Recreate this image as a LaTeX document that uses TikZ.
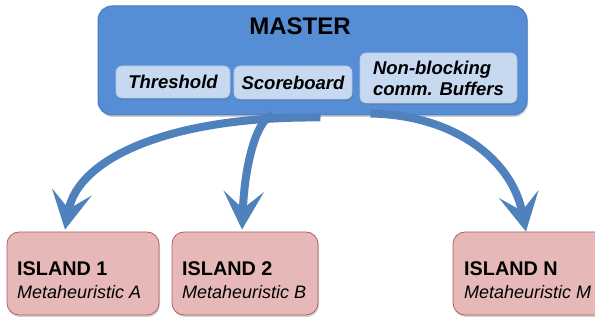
\documentclass[tikz,border=0pt]{standalone}
\usepackage{fontspec}
\setmainfont{Liberation Sans}
\usetikzlibrary{arrows.meta,shadows,calc}
\definecolor{masterblue}{HTML}{558ED5}
\definecolor{masteredge}{HTML}{4A7CC0}
\definecolor{innerblue}{HTML}{C6D9F1}
\definecolor{inneredge}{HTML}{AFC6E6}
\definecolor{islandfill}{HTML}{E6B9B8}
\definecolor{islandedge}{HTML}{B06060}
\definecolor{arrowblue}{HTML}{4F81BD}
\tikzset{
  boxshadow/.style={drop shadow={shadow xshift=1pt,shadow yshift=-2pt,opacity=0.3,fill=black!60}},
  masterbox/.style={draw=masteredge,line width=1pt,fill=masterblue,rounded corners=14pt,boxshadow,inner sep=0pt},
  innerbox/.style={draw=inneredge,line width=0.6pt,fill=innerblue,rounded corners=6pt,boxshadow,inner sep=0pt,
    font=\fontsize{18.5}{21}\selectfont\bfseries\itshape,align=left},
  islandbox/.style={draw=islandedge,line width=0.8pt,fill=islandfill,rounded corners=12pt,boxshadow,inner sep=0pt},
  islandtitle/.style={anchor=base west,inner sep=0pt,font=\fontsize{19.8}{22}\selectfont\bfseries},
  islandsub/.style={anchor=base west,inner sep=0pt,font=\fontsize{18}{21}\selectfont\itshape},
  flow/.style={draw=arrowblue,line width=8pt,-{Stealth[length=38pt,width=40pt,inset=17pt]}},
}
\begin{document}
\begin{tikzpicture}[x=1pt,y=-1pt]
\useasboundingbox (0,0) rectangle (595,320);
% master
\node[masterbox,minimum width=429pt,minimum height=109pt] (master) at (312.5,60.5) {};
\node[anchor=base,inner sep=0pt,font=\fontsize{24}{28}\selectfont\bfseries] (mtitle) at (300,35) {MASTER};
\node[innerbox,minimum width=114pt,minimum height=32pt] (thr) at (173,82) {Threshold};
\node[innerbox,minimum width=118pt,minimum height=33pt] (score) at (293,82.5) {Scoreboard};
\node[innerbox,minimum width=157pt,minimum height=50pt] (buf) at (438.5,78) {Non-blocking\\comm. Buffers};
% islands
\node[islandbox,minimum width=152pt,minimum height=83pt] (i1) at (83,273.5) {};
\node[islandbox,minimum width=146pt,minimum height=83pt] (i2) at (245,273.5) {};
\node[islandbox,minimum width=160pt,minimum height=83pt] (iN) at (533,273.5) {};
\node[islandtitle] (i1t) at (17,276) {ISLAND 1};
\node[islandsub] (i1s) at (17,299) {Metaheuristic A};
\node[islandtitle] (i2t) at (182,276) {ISLAND 2};
\node[islandsub] (i2s) at (182,299) {Metaheuristic B};
\node[islandtitle] (iNt) at (464,276) {ISLAND N};
\node[islandsub] (iNs) at (464,299) {Metaheuristic M};
% arrows
\draw[flow] ([xshift=8pt,yshift=-2pt]master.south) .. controls (170,116) and (78,158) .. ([xshift=-18pt,yshift=2pt]i1.north);
\draw[flow] ([xshift=-40pt]master.south) .. controls (258,118) and (245,160) .. ([xshift=-3pt,yshift=2pt]i2.north);
\draw[flow] ([xshift=58pt,yshift=2pt]master.south) .. controls (455,115) and (512,160) .. ([xshift=-7pt]iN.north);
\end{tikzpicture}
\end{document}
